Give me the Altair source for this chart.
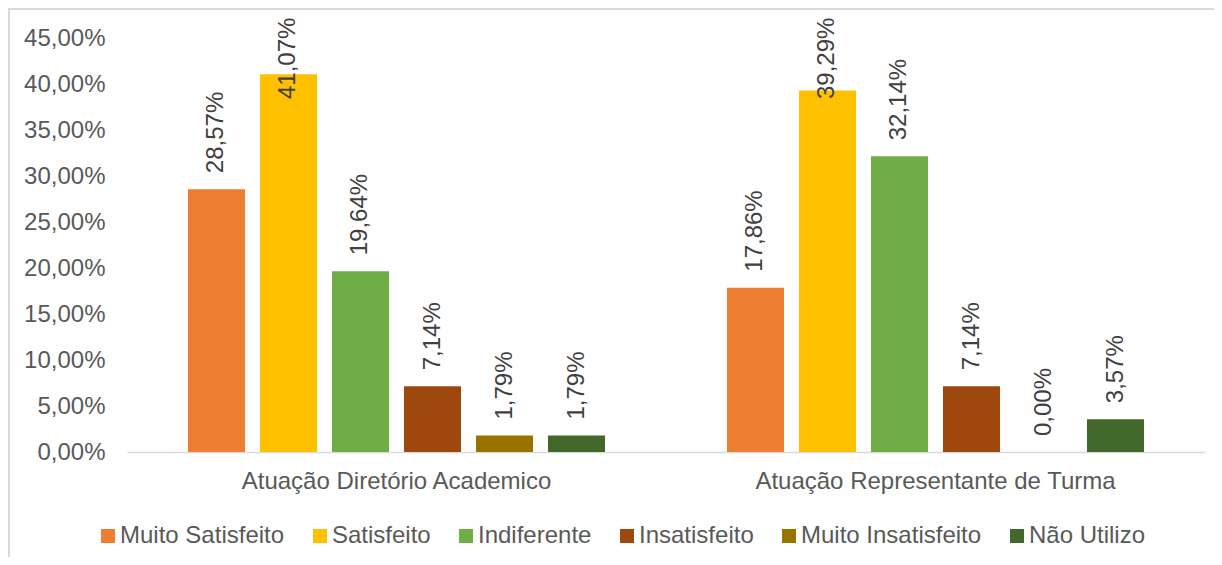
import altair as alt
import pandas as pd

groups = ["Atuação Diretório Academico", "Atuação Representante de Turma"]
categories = ["Muito Satisfeito", "Satisfeito", "Indiferente", "Insatisfeito",
              "Muito Insatisfeito", "Não Utilizo"]
diretorio = [28.57, 41.07, 19.64, 7.14, 1.79, 1.79]
representante = [17.86, 39.29, 32.14, 7.14, 0.00, 3.57]
colors = ["#ED7D31", "#FFC000", "#70AD47", "#9E480E", "#997300", "#43682B"]
y_ticks = [0, 5, 10, 15, 20, 25, 30, 35, 40, 45]

rows = []
for g, vals in zip(groups, [diretorio, representante]):
    for c, v in zip(categories, vals):
        rows.append({"grupo": g, "categoria": c, "valor": v})
df = pd.DataFrame(rows)

W, H = 1078, 414
FONT = "Liberation Sans"
FS = 24

x_enc = alt.X(
    "grupo:N", sort=groups,
    scale=alt.Scale(paddingInner=0, paddingOuter=0),
    axis=alt.Axis(title=None, labelAngle=0, labelFontSize=FS, labelFont=FONT,
                  labelColor="#595959", labelPadding=17, ticks=False, labelLimit=0,
                  domainColor="#D9D9D9", domainWidth=1.5),
)
xoff_enc = alt.XOffset("categoria:N", sort=categories,
                       scale=alt.Scale(paddingInner=0.208, paddingOuter=0.847))

border = alt.Chart(alt.Data(values=[{"a": 1}])).mark_rect(
    fill="#ffffff", fillOpacity=0, stroke="#D9D9D9", strokeWidth=2
).encode(
    x=alt.value(-118), x2=alt.value(W + 300),
    y=alt.value(-29), y2=alt.value(H + 400),
)

bars = alt.Chart(df).mark_bar().encode(
    x=x_enc,
    xOffset=xoff_enc,
    y=alt.Y("valor:Q", scale=alt.Scale(domain=[0, 45], nice=False),
            axis=alt.Axis(title=None, values=y_ticks, grid=False, domain=False,
                          ticks=False, labelFontSize=FS, labelFont=FONT,
                          labelColor="#595959", labelPadding=22,
                          labelExpr="replace(format(datum.value, '.2f'), '.', ',') + '%'")),
    color=alt.Color("categoria:N", sort=categories,
                    scale=alt.Scale(domain=categories, range=colors),
                    legend=alt.Legend(title=None, orient="none", legendX=-31, legendY=486,
                                      direction="horizontal", columns=6,
                                      symbolType="square", symbolSize=196,
                                      symbolStrokeWidth=0, labelFontSize=FS,
                                      labelFont=FONT, labelColor="#595959",
                                      labelLimit=0,
                                      labelOffset=0, columnPadding=23)),
)

labels = alt.Chart(df).transform_calculate(
    rotulo="replace(format(datum.valor, '.2f'), '.', ',') + '%'",
    pos="min(datum.valor, 36.63)",
).mark_text(
    angle=270, align="left", baseline="middle", dx=16,
    fontSize=FS, font=FONT, color="#404040",
).encode(
    x=x_enc,
    xOffset=xoff_enc,
    y=alt.Y("pos:Q", title=None),
    text="rotulo:N",
)

chart = alt.layer(border, bars, labels).properties(
    width=W, height=H,
    autosize=alt.AutoSizeParams(type="none"),
    padding={"left": 119, "top": 30, "right": 9, "bottom": 105},
    background="#ffffff",
).configure_view(stroke=None)

chart.save("out.html", embed_options={"renderer": "svg", "actions": False})
